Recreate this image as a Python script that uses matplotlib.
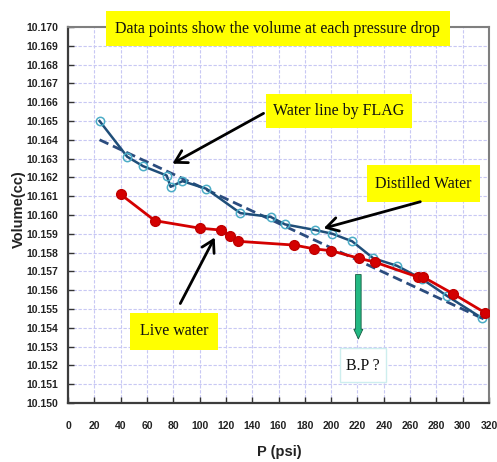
import matplotlib
matplotlib.use("Agg")
import matplotlib.pyplot as plt
from matplotlib.patches import Rectangle, FancyArrowPatch
import numpy as np

# data
dist_p = [24, 45, 57, 75, 78, 87, 105, 131, 154, 165, 188, 201, 216, 232, 250, 269, 288, 315]
dist_v = [10.1650, 10.1631, 10.1626, 10.1621, 10.1615, 10.1618, 10.1614, 10.1601, 10.1599,
          10.1595, 10.1592, 10.1590, 10.1586, 10.1577, 10.1573, 10.1566, 10.1557, 10.1545]
live_p = [40, 66, 100, 116, 123, 129.5, 172, 187, 200, 221, 233, 266, 270, 293, 317]
live_v = [10.1611, 10.1597, 10.1593, 10.1592, 10.1589, 10.1586, 10.1584, 10.1582, 10.1581,
          10.1577, 10.1575, 10.1567, 10.1567, 10.1558, 10.1548]
flag_p = [24, 315]
flag_v = [10.1640, 10.1545]
bp_arrow_p = [220.7, 220.7]
bp_arrow_v = [10.15698, 10.15326]

x_ticks = np.arange(0, 321, 20)
y_ticks = np.arange(10.150, 10.1705, 0.001)

SANS = "Liberation Sans"
SERIF = "Liberation Serif"

W, H = 497, 462
fig = plt.figure(figsize=(W / 100, H / 100), dpi=100)
ax = fig.add_axes([68 / W, 1 - 403 / H, (489 - 68) / W, (403 - 27) / H])

def fp(x, y):
    # figure pixel (from top-left) -> figure fraction
    return (x / W, 1 - y / H)

ax.plot(flag_p, flag_v, color="#2b4c7e", lw=2, dashes=(3.5, 1.8), zorder=3)
ax.plot(dist_p, dist_v, color="#1f4e79", lw=1.8, marker="o", ms=6, mfc="none",
        mec="#4bacc6", mew=1.1, zorder=4)
ax.plot(live_p, live_v, color="#d40000", lw=2, marker="o", ms=7, mfc="#d40000",
        mec="#c00000", zorder=5)

ax.set_xlim(0, 320)
ax.set_ylim(10.150, 10.170)
ax.set_xticks(x_ticks)
ax.set_yticks(y_ticks)
ax.set_xticklabels([f"{v:d}" for v in x_ticks], fontfamily=SANS, fontweight="bold", fontsize=7.5, color="#222222")
ax.set_yticklabels([f"{v:.3f}" for v in y_ticks], fontfamily=SANS, fontweight="bold", fontsize=7.5, color="#222222")
ax.tick_params(direction="in", length=4, width=1, color="#333333")
ax.tick_params(axis="y", pad=7)
ax.tick_params(axis="x", pad=13)
ax.grid(True, color="#c8c8f4", ls=(0, (3, 1.5)), lw=0.8)
ax.set_axisbelow(True)
for s in ["left", "bottom"]:
    ax.spines[s].set_color("#3c3c3c")
    ax.spines[s].set_linewidth(1.6)
for s in ["top", "right"]:
    ax.spines[s].set_color("#7f7f7f")
    ax.spines[s].set_linewidth(1.5)

fig.text(*fp(19, 209), "Volume(cc)", rotation=90, ha="center", va="center",
         fontfamily=SANS, fontweight="bold", fontsize=10.5, color="#222222")
fig.text(*fp(279, 452), "P (psi)", ha="center", va="center",
         fontfamily=SANS, fontweight="bold", fontsize=10.5, color="#222222")

# yellow label boxes
boxes = [
    ((106, 11, 450, 46), (277, 29), "Data points show the volume at each pressure drop", "#ffff00", "none"),
    ((266, 94, 412, 128), (339, 111), "Water line by FLAG", "#ffff00", "none"),
    ((367, 165, 480, 202), (423, 184), "Distilled Water", "#ffff00", "none"),
    ((130, 313, 218, 350), (174, 331), "Live water", "#ffff00", "none"),
    ((340, 348, 386, 382), (363, 366), "B.P ?", "white", "#cdeeee"),
]
for (x0, y0, x1, y1), (tx, ty), txt, fc, ec in boxes:
    fig.patches.append(Rectangle(fp(x0, y1), (x1 - x0) / W, (y1 - y0) / H, transform=fig.transFigure,
                                 fc=fc, ec=ec, lw=1, zorder=10))
    fig.text(*fp(tx, ty), txt, ha="center", va="center", fontfamily=SERIF, fontsize=11.5,
             color="#111111", zorder=11)

# black pointer arrows
for (sx, sy), (ex, ey) in [((266, 112), (170, 165)), ((423, 201), (321, 229)), ((179, 306), (216, 235))]:
    fig.patches.append(FancyArrowPatch(fp(sx, sy), fp(ex, ey), transform=fig.transFigure,
                                       arrowstyle="->,head_length=0.6,head_width=0.35", mutation_scale=14,
                                       color="black", lw=2, zorder=12))

# green B.P arrow
ax.add_patch(FancyArrowPatch((bp_arrow_p[0], bp_arrow_v[0]), (bp_arrow_p[1], bp_arrow_v[1]),
                             arrowstyle="simple,head_length=7,head_width=6.5,tail_width=4", mutation_scale=1,
                             fc="#23b882", ec="#155c40", lw=0.6, zorder=8))

fig.savefig("out.png", dpi=100)
